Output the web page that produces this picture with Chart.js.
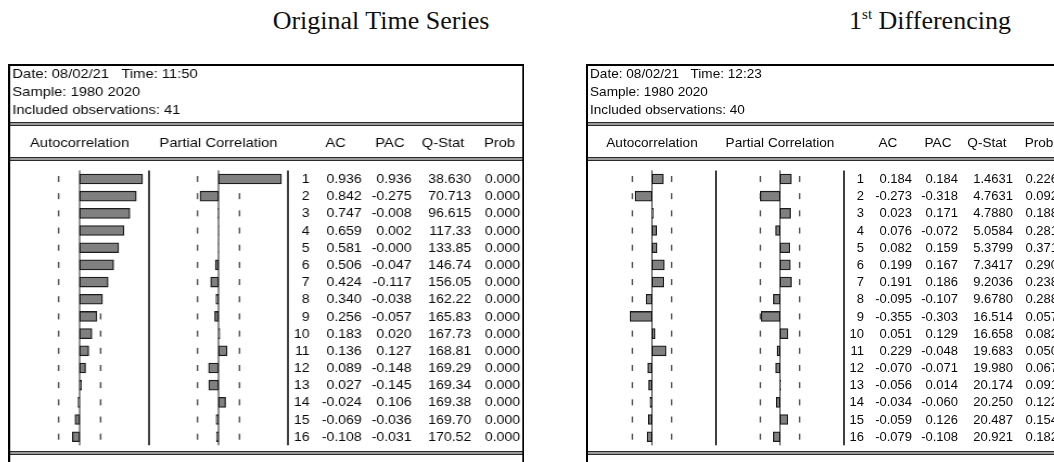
<!DOCTYPE html>
<html>
<head>
<meta charset="utf-8">
<script src="https://cdn.jsdelivr.net/npm/chart.js@4.4.0/dist/chart.umd.min.js"></script>
<style>
  html, body { margin: 0; padding: 0; background: #fff; width: 1054px; height: 462px; overflow: hidden; }
  .title { position: absolute; top: 8px; font-family: "Liberation Serif", serif; font-size: 26px; line-height: 26px; color: #111; white-space: nowrap; transform: translateX(-50%); }
  .title .sup { font-size: 15px; position: relative; top: -10px; }
  .panel { position: absolute; top: 0; width: 476px; height: 462px; }
  #leftPanel { left: 8px; transform: scaleX(1.085); transform-origin: 0 0; }
  #rightPanel { left: 586px; }
</style>
</head>
<body>
<div class="title" style="left:381px">Original Time Series</div>
<div class="title" style="left:930px">1<span class="sup">st</span> Differencing</div>
<div class="panel" id="leftPanel"><canvas id="origChart" width="476" height="462"></canvas></div>
<div class="panel" id="rightPanel"><canvas id="diffChart" width="476" height="462"></canvas></div>

<script>
// lags
const lags = ['1', '2', '3', '4', '5', '6', '7', '8', '9', '10', '11', '12', '13', '14', '15', '16'];

// original series
const origInfo = ['Date: 08/02/21   Time: 11:50', 'Sample: 1980 2020', 'Included observations: 41'];
const origObs = 41;
const origAC = [0.936, 0.842, 0.747, 0.659, 0.581, 0.506, 0.424, 0.340, 0.256, 0.183, 0.136, 0.089, 0.027, -0.024, -0.069, -0.108];
const origPAC = [0.936, -0.275, -0.008, 0.002, -0.0004, -0.047, -0.117, -0.038, -0.057, 0.020, 0.127, -0.148, -0.145, 0.106, -0.036, -0.031];
const origQ = [38.630, 70.713, 96.615, 117.33, 133.85, 146.74, 156.05, 162.22, 165.83, 167.73, 168.81, 169.29, 169.34, 169.38, 169.70, 170.52];
const origProb = [0, 0, 0, 0, 0, 0, 0, 0, 0, 0, 0, 0, 0, 0, 0, 0];

// first difference
const diffInfo = ['Date: 08/02/21   Time: 12:23', 'Sample: 1980 2020', 'Included observations: 40'];
const diffObs = 40;
const diffAC = [0.184, -0.273, 0.023, 0.076, 0.082, 0.199, 0.191, -0.095, -0.355, 0.051, 0.229, -0.070, -0.056, -0.034, -0.059, -0.079];
const diffPAC = [0.184, -0.318, 0.171, -0.072, 0.159, 0.167, 0.186, -0.107, -0.303, 0.129, -0.048, -0.071, 0.014, -0.060, 0.126, -0.108];
const diffQ = [1.4631, 4.7631, 4.7880, 5.0584, 5.3799, 7.3417, 9.2036, 9.6780, 16.514, 16.658, 19.683, 19.980, 20.174, 20.250, 20.487, 20.921];
const diffProb = [0.226, 0.092, 0.188, 0.281, 0.371, 0.290, 0.238, 0.288, 0.057, 0.082, 0.050, 0.067, 0.091, 0.122, 0.154, 0.182];

const R = 1.032; // half width of a bar column in correlation units
const NUM_FONT = '13px "Liberation Sans", Arial, sans-serif';
const LABEL_FONT = '13.6px "Liberation Sans", Arial, sans-serif';

// draws the EViews style table around the bars
const correlogram = {
  id: 'correlogram',
  beforeDatasetsDraw(chart, args, opts) {
    const { ctx, chartArea: area, scales } = chart;
    const xa = scales.xa, xp = scales.xp, y = scales.y;
    const bound = 2 / Math.sqrt(opts.obs);
    ctx.save();

    // outer box
    ctx.strokeStyle = '#000';
    ctx.lineWidth = 2;
    ctx.beginPath();
    ctx.moveTo(1, 480); ctx.lineTo(1, 65); ctx.lineTo(475, 65); ctx.lineTo(475, 480);
    ctx.stroke();

    // double rules
    [122, 157, 451].forEach(yy => {
      ctx.fillStyle = '#2a2a2a';
      ctx.fillRect(2, yy, 472, 4);
      ctx.fillStyle = '#9c9c9c';
      ctx.fillRect(2, yy + 1, 472, 2);
    });

    ctx.fillStyle = '#0a0a0a';
    ctx.font = LABEL_FONT;
    ctx.textBaseline = 'middle';
    ctx.textAlign = 'left';
    opts.info.forEach((s, i) => ctx.fillText(s, 4, 74 + i * 18));

    // column headers
    ctx.textAlign = 'center';
    const hy = 143.5;
    ctx.fillText('Autocorrelation', xa.getPixelForValue(0), hy);
    ctx.fillText('Partial Correlation', xp.getPixelForValue(0), hy);
    ctx.fillText('AC', 302, hy);
    ctx.fillText('PAC', 352, hy);
    ctx.fillText('Q-Stat', 401, hy);
    ctx.fillText('Prob', 453, hy);

    // separators and zero lines
    const vline = (x, w, c) => {
      ctx.strokeStyle = c;
      ctx.lineWidth = w;
      ctx.beginPath();
      ctx.moveTo(x, area.top);
      ctx.lineTo(x, area.bottom);
      ctx.stroke();
    };
    vline(xa.getPixelForValue(R), 1.5, '#000');
    vline(xp.getPixelForValue(R), 1.5, '#000');
    vline(xa.getPixelForValue(0), 1, '#222');
    vline(xp.getPixelForValue(0), 1, '#222');

    // significance dashes, one per row
    ctx.strokeStyle = '#555';
    ctx.lineWidth = 1.5;
    lags.forEach((l, i) => {
      const py = y.getPixelForValue(i);
      [xa, xp].forEach(sc => {
        [-bound, bound].forEach(b => {
          const px = sc.getPixelForValue(b);
          ctx.beginPath();
          ctx.moveTo(px, py - 3);
          ctx.lineTo(px, py + 3);
          ctx.stroke();
        });
      });
    });

    // numbers
    ctx.fillStyle = '#0a0a0a';
    ctx.font = NUM_FONT;
    ctx.textAlign = 'right';
    lags.forEach((l, i) => {
      const py = y.getPixelForValue(i) + 0.5;
      ctx.fillText(l, 278, py);
      ctx.fillText(opts.ac[i].toFixed(3), 326, py);
      ctx.fillText(opts.pac[i].toFixed(3), 372, py);
      ctx.fillText(opts.q[i].toPrecision(5), 427, py);
      ctx.fillText(opts.prob[i].toFixed(3), 472, py);
    });

    ctx.restore();
  }
};

function makePanel(id, info, obs, ac, pac, q, prob) {
  const barStyle = {
    backgroundColor: '#808080',
    borderColor: '#1c1c1c',
    borderWidth: 1.3,
    borderSkipped: false,
    barThickness: 10,
    grouped: false
  };
  return new Chart(document.getElementById(id), {
    type: 'bar',
    data: {
      labels: lags,
      datasets: [
        Object.assign({ label: 'AC', data: ac, xAxisID: 'xa', yAxisID: 'y' }, barStyle),
        Object.assign({ label: 'PAC', data: pac, xAxisID: 'xp', yAxisID: 'y' }, barStyle)
      ]
    },
    options: {
      indexAxis: 'y',
      responsive: false,
      animation: false,
      layout: { padding: { left: 2, right: 218, top: 170.4, bottom: 16.7 } },
      plugins: {
        legend: { display: false },
        tooltip: { enabled: false },
        title: { display: false },
        correlogram: { info: info, obs: obs, ac: ac, pac: pac, q: q, prob: prob }
      },
      scales: {
        y: { type: 'category', offset: true, display: false },
        xa: { type: 'linear', min: -R, max: 3 * R, display: false },
        xp: { type: 'linear', min: -3 * R, max: R, display: false }
      }
    },
    plugins: [correlogram]
  });
}

makePanel('origChart', origInfo, origObs, origAC, origPAC, origQ, origProb);
makePanel('diffChart', diffInfo, diffObs, diffAC, diffPAC, diffQ, diffProb);
</script>
</body>
</html>
